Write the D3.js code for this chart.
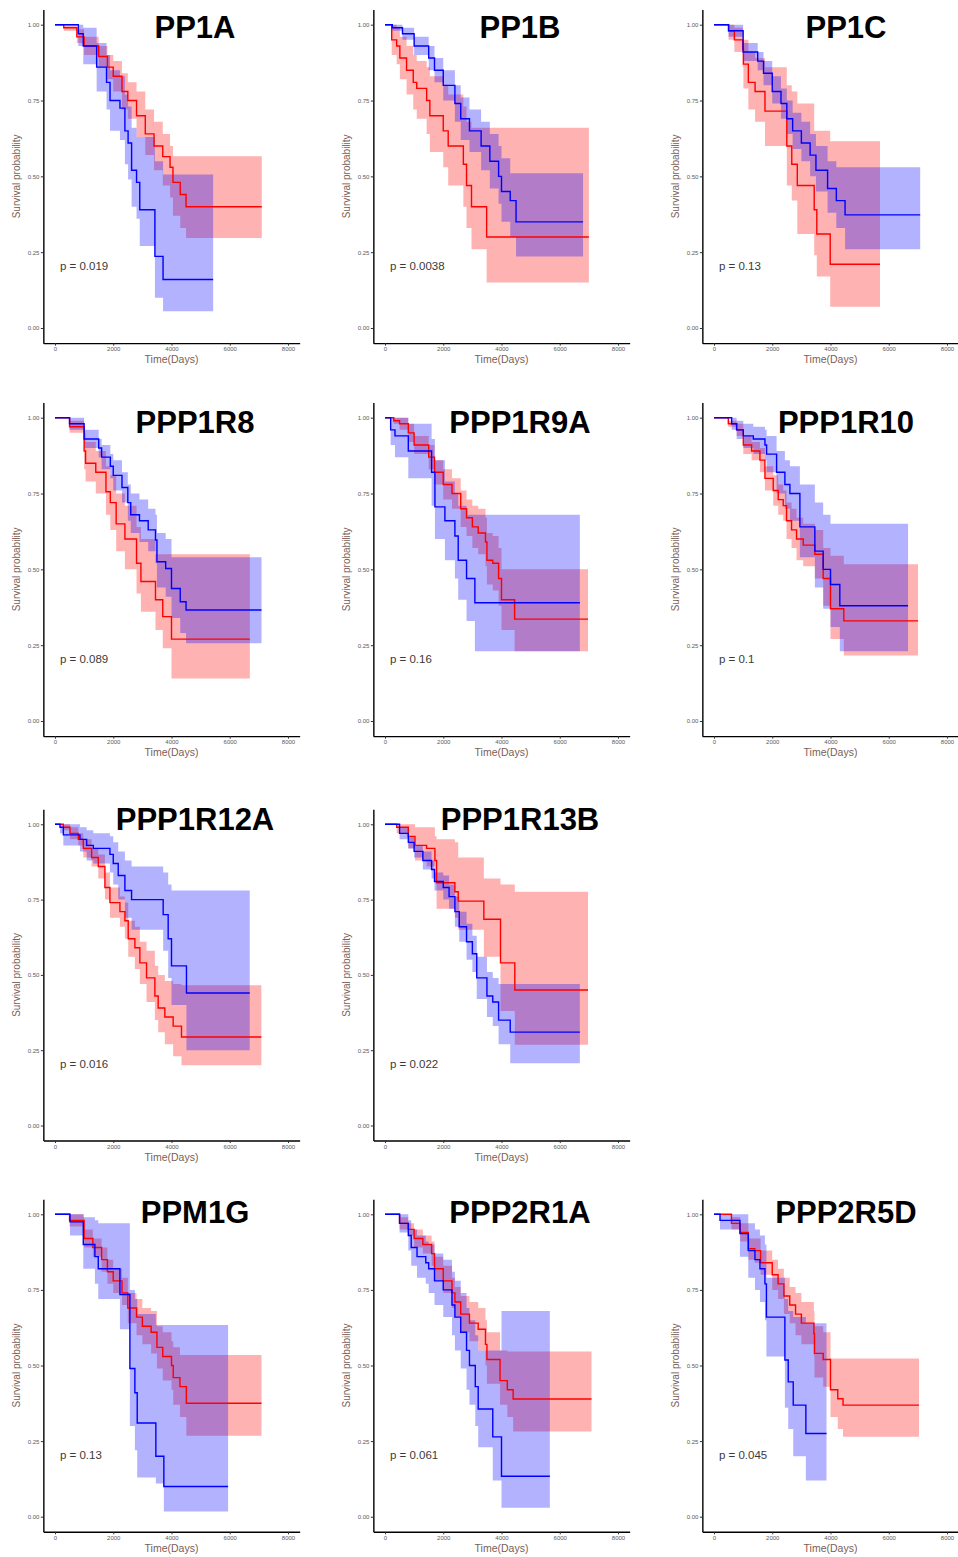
<!DOCTYPE html>
<html>
<head>
<meta charset="utf-8">
<script src="https://cdn.jsdelivr.net/npm/d3@7"></script>
<style>
  body { margin: 0; background: #fff; }
  svg text { font-family: "Liberation Sans", Arial, sans-serif; }
</style>
</head>
<body>
<svg id="chart" width="958" height="1557"></svg>
<script>
// gene panels, reading order; slot 8 (row 3, col 3) stays empty
const genes = ['PP1A', 'PP1B', 'PP1C', 'PPP1R8', 'PPP1R9A', 'PPP1R10',
  'PPP1R12A', 'PPP1R13B', 'PPM1G', 'PPP2R1A', 'PPP2R5D'];
const pValues = ['0.019', '0.0038', '0.13', '0.089', '0.16', '0.1',
  '0.016', '0.022', '0.13', '0.061', '0.045'];
const slots = [0, 1, 2, 3, 4, 5, 6, 7, 9, 10, 11];

const yTicks = [0, 0.25, 0.5, 0.75, 1];
const xTicks = [0, 2000, 4000, 6000, 8000];

// each row: [time (days), survival, lower CI, upper CI]
const pp1aRed = [[0,1,1,1],[300,0.99,0.98,1],[750,0.96,0.94,0.985],[1000,0.93,0.90,0.96],
  [1500,0.895,0.86,0.93],[1800,0.86,0.82,0.90],[2000,0.83,0.78,0.88],[2300,0.78,0.72,0.84],
  [2500,0.75,0.69,0.81],[2800,0.70,0.63,0.78],[3100,0.64,0.57,0.72],[3400,0.60,0.52,0.68],
  [3700,0.565,0.47,0.64],[3950,0.53,0.43,0.60],[4050,0.48,0.37,0.566],[4300,0.44,0.33,0.566],
  [4500,0.40,0.297,0.566],[7100,0.40,0.297,0.566]];
const pp1aBlue = [[0,1,1,1],[800,0.97,0.93,1],[970,0.93,0.87,0.99],[1430,0.86,0.78,0.94],
  [1770,0.81,0.72,0.90],[1890,0.75,0.65,0.85],[2230,0.725,0.62,0.83],[2400,0.65,0.54,0.77],
  [2510,0.61,0.49,0.73],[2630,0.52,0.40,0.66],[2800,0.48,0.36,0.63],[2910,0.39,0.27,0.63],
  [3430,0.236,0.10,0.55],[3710,0.16,0.055,0.506],[5430,0.16,0.055,0.506]];

const pp1bRed = [[0,1,1,1],[230,0.95,0.90,1],[400,0.93,0.87,0.99],[510,0.89,0.82,0.96],
  [740,0.85,0.77,0.93],[970,0.81,0.72,0.90],[1090,0.79,0.69,0.88],[1430,0.75,0.64,0.86],
  [1540,0.70,0.58,0.83],[2000,0.65,0.53,0.80],[2170,0.60,0.47,0.77],[2690,0.54,0.40,0.73],
  [2800,0.47,0.33,0.68],[2970,0.40,0.26,0.66],[3490,0.30,0.15,0.66],[7000,0.30,0.15,0.66]];
const pp1bBlue = [[0,1,1,1],[250,0.99,0.98,1],[600,0.97,0.95,0.99],[1000,0.93,0.90,0.96],
  [1500,0.89,0.85,0.93],[1700,0.85,0.81,0.89],[2000,0.80,0.75,0.85],[2400,0.74,0.68,0.80],
  [2600,0.69,0.62,0.76],[2900,0.65,0.58,0.72],[3300,0.60,0.52,0.68],[3600,0.55,0.46,0.64],
  [3900,0.50,0.41,0.60],[4000,0.45,0.35,0.56],[4300,0.42,0.30,0.51],[4500,0.35,0.236,0.51],
  [6800,0.35,0.236,0.51]];

const pp1cRed = [[0,1,1,1],[500,0.98,0.95,1],[700,0.95,0.91,0.99],[985,0.92,0.86,0.98],
  [1010,0.87,0.79,0.95],[1180,0.81,0.72,0.91],[1410,0.78,0.68,0.89],[1750,0.715,0.60,0.86],
  [2500,0.60,0.47,0.80],[2670,0.54,0.42,0.78],[2860,0.47,0.31,0.74],[3440,0.39,0.24,0.65],
  [3530,0.31,0.17,0.65],[3990,0.21,0.07,0.616],[5700,0.21,0.07,0.616]];
const pp1cBlue = [[0,1,1,1],[500,0.98,0.96,1],[1000,0.91,0.88,0.94],[1500,0.88,0.85,0.91],
  [1700,0.84,0.80,0.88],[2000,0.78,0.74,0.83],[2300,0.74,0.69,0.79],[2500,0.69,0.64,0.75],
  [2700,0.65,0.59,0.71],[3000,0.61,0.55,0.68],[3300,0.57,0.50,0.64],[3500,0.52,0.45,0.60],
  [3900,0.46,0.38,0.55],[4200,0.42,0.33,0.53],[4500,0.373,0.26,0.53],[7080,0.373,0.26,0.53]];

const r8Red = [[0,1,1,1],[500,0.97,0.95,0.99],[1000,0.89,0.83,0.95],[1050,0.85,0.79,0.92],
  [1400,0.82,0.75,0.89],[1750,0.756,0.68,0.84],[1900,0.72,0.63,0.81],[2100,0.65,0.56,0.75],
  [2400,0.60,0.50,0.71],[2800,0.52,0.42,0.64],[2950,0.46,0.36,0.60],[3450,0.40,0.30,0.55],
  [3700,0.344,0.24,0.55],[4000,0.27,0.14,0.55],[6690,0.27,0.14,0.55]];
const r8Blue = [[0,1,1,1],[500,0.98,0.96,1],[1000,0.93,0.90,0.96],[1500,0.90,0.87,0.93],
  [1600,0.87,0.83,0.91],[1900,0.84,0.80,0.88],[2000,0.81,0.76,0.86],[2300,0.77,0.72,0.82],
  [2500,0.72,0.66,0.78],[2600,0.68,0.62,0.75],[2900,0.66,0.59,0.73],[3200,0.63,0.56,0.70],
  [3450,0.597,0.52,0.68],[3500,0.525,0.44,0.62],[3800,0.503,0.41,0.60],[4000,0.437,0.34,0.54],
  [4300,0.393,0.29,0.54],[4500,0.366,0.256,0.54],[7090,0.366,0.256,0.54]];

const r9aRed = [[0,1,1,1],[300,0.99,0.98,1],[500,0.98,0.96,1],[800,0.95,0.92,0.98],
  [1000,0.91,0.88,0.94],[1500,0.87,0.83,0.91],[1700,0.82,0.78,0.86],[2000,0.78,0.73,0.83],
  [2300,0.75,0.70,0.80],[2600,0.70,0.64,0.76],[2800,0.67,0.61,0.73],[3000,0.64,0.57,0.71],
  [3200,0.62,0.55,0.70],[3450,0.59,0.51,0.67],[3500,0.53,0.45,0.62],[3700,0.52,0.43,0.61],
  [3900,0.47,0.38,0.57],[4000,0.40,0.30,0.50],[4450,0.336,0.23,0.50],[6970,0.336,0.23,0.50]];
const r9aBlue = [[0,1,1,1],[194,0.96,0.91,1],[343,0.94,0.87,1],[800,0.89,0.80,0.98],
  [1600,0.82,0.71,0.93],[1714,0.706,0.60,0.86],[2057,0.66,0.53,0.79],[2400,0.61,0.47,0.75],
  [2514,0.53,0.40,0.71],[2800,0.47,0.33,0.68],[3086,0.39,0.23,0.68],[6690,0.39,0.23,0.68]];

const r10Red = [[0,1,1,1],[491,0.98,0.97,0.99],[777,0.96,0.94,0.98],[1006,0.91,0.88,0.94],
  [1291,0.89,0.86,0.92],[1577,0.86,0.82,0.90],[1749,0.80,0.76,0.84],[2034,0.76,0.71,0.81],
  [2206,0.73,0.68,0.78],[2377,0.71,0.66,0.76],[2491,0.66,0.60,0.72],[2663,0.63,0.57,0.70],
  [2834,0.60,0.53,0.67],[3063,0.58,0.51,0.65],[3463,0.55,0.47,0.63],[3749,0.47,0.38,0.57],
  [4000,0.37,0.27,0.545],[4457,0.33,0.216,0.517],[7006,0.33,0.216,0.517]];
const r10Blue = [[0,1,1,1],[606,0.98,0.96,1],[777,0.96,0.93,0.99],[1006,0.94,0.90,0.98],
  [1349,0.93,0.88,0.97],[1749,0.91,0.86,0.96],[1806,0.88,0.82,0.94],[2149,0.82,0.75,0.89],
  [2434,0.78,0.70,0.86],[2606,0.75,0.66,0.84],[2949,0.64,0.54,0.78],[3463,0.56,0.44,0.72],
  [3749,0.50,0.37,0.68],[4000,0.45,0.31,0.65],[4320,0.38,0.23,0.65],[6663,0.38,0.23,0.65]];

const r12aRed = [[0,1,1,1],[286,0.99,0.98,1],[514,0.97,0.95,0.99],[800,0.95,0.93,0.97],
  [971,0.92,0.89,0.95],[1257,0.89,0.86,0.92],[1486,0.86,0.82,0.90],[1714,0.79,0.75,0.84],
  [1886,0.74,0.69,0.79],[2229,0.71,0.66,0.76],[2400,0.68,0.62,0.74],[2514,0.62,0.56,0.68],
  [2743,0.59,0.52,0.66],[2914,0.54,0.47,0.61],[3143,0.49,0.41,0.58],[3429,0.43,0.35,0.53],
  [3543,0.39,0.31,0.50],[3771,0.36,0.27,0.48],[4057,0.33,0.23,0.47],[4343,0.294,0.20,0.466],
  [7086,0.294,0.20,0.466]];
const r12aBlue = [[0,1,1,1],[171,0.99,0.97,1],[286,0.965,0.93,1],[857,0.95,0.91,0.99],
  [1086,0.93,0.88,0.98],[1314,0.92,0.87,0.97],[1886,0.90,0.84,0.96],[2000,0.87,0.80,0.94],
  [2171,0.83,0.75,0.91],[2400,0.78,0.69,0.88],[2629,0.75,0.65,0.86],[3714,0.70,0.58,0.84],
  [3886,0.62,0.49,0.80],[4000,0.53,0.40,0.78],[4514,0.44,0.25,0.78],[6686,0.44,0.25,0.78]];

const r13bRed = [[0,1,1,1],[400,0.99,0.97,1],[800,0.96,0.92,1],[1029,0.93,0.88,0.99],
  [1429,0.92,0.86,0.99],[1714,0.88,0.81,0.96],[1771,0.806,0.72,0.95],[2400,0.776,0.69,0.94],
  [2514,0.745,0.65,0.89],[3394,0.685,0.56,0.82],[3966,0.54,0.38,0.80],[4457,0.45,0.268,0.776],
  [6971,0.45,0.268,0.776]];
const r13bBlue = [[0,1,1,1],[500,0.97,0.95,0.99],[800,0.94,0.92,0.96],[1000,0.91,0.89,0.93],
  [1300,0.88,0.85,0.91],[1600,0.85,0.82,0.88],[1700,0.81,0.78,0.84],[2000,0.79,0.75,0.83],
  [2200,0.76,0.72,0.80],[2400,0.71,0.66,0.76],[2550,0.66,0.61,0.71],[2800,0.61,0.55,0.67],
  [3000,0.57,0.51,0.63],[3150,0.49,0.42,0.56],[3500,0.43,0.36,0.51],[3700,0.41,0.33,0.49],
  [3900,0.35,0.27,0.47],[4300,0.31,0.207,0.47],[6690,0.31,0.207,0.47]];

const ppm1gRed = [[0,1,1,1],[500,0.98,0.96,1],[1000,0.92,0.89,0.95],[1300,0.89,0.86,0.92],
  [1600,0.85,0.81,0.89],[1800,0.81,0.77,0.85],[2000,0.78,0.74,0.82],[2300,0.74,0.70,0.79],
  [2500,0.69,0.64,0.74],[2800,0.66,0.60,0.72],[3000,0.63,0.57,0.69],[3300,0.61,0.54,0.68],
  [3500,0.56,0.49,0.63],[3700,0.53,0.45,0.61],[4000,0.50,0.42,0.58],[4060,0.46,0.37,0.56],
  [4290,0.43,0.33,0.535],[4510,0.375,0.268,0.535],[7090,0.375,0.268,0.535]];
const ppm1gBlue = [[0,1,1,1],[514,0.975,0.93,1],[971,0.90,0.82,0.99],[1370,0.86,0.77,0.98],
  [1486,0.82,0.72,0.97],[2229,0.735,0.62,0.97],[2571,0.49,0.30,0.75],[2743,0.41,0.22,0.72],
  [2823,0.31,0.13,0.67],[3463,0.20,0.11,0.634],[3737,0.10,0.017,0.634],[5943,0.10,0.017,0.634]];

const r2r1aRed = [[0,1,1,1],[500,0.97,0.95,0.99],[800,0.95,0.93,0.97],[1000,0.92,0.89,0.95],
  [1300,0.90,0.87,0.93],[1600,0.87,0.83,0.91],[1700,0.82,0.78,0.86],[2000,0.78,0.74,0.83],
  [2300,0.74,0.69,0.79],[2400,0.71,0.66,0.76],[2600,0.67,0.61,0.73],[2900,0.64,0.58,0.71],
  [3200,0.62,0.55,0.69],[3450,0.57,0.50,0.65],[3500,0.52,0.44,0.61],[3950,0.45,0.37,0.55],
  [4200,0.42,0.33,0.546],[4400,0.389,0.282,0.546],[7090,0.389,0.282,0.546]];
const r2r1aBlue = [[0,1,1,1],[500,0.97,0.94,1],[800,0.93,0.88,0.98],[900,0.89,0.83,0.95],
  [1100,0.86,0.79,0.93],[1400,0.84,0.77,0.91],[1500,0.82,0.74,0.90],[1700,0.78,0.70,0.87],
  [2000,0.75,0.66,0.85],[2300,0.70,0.60,0.81],[2400,0.66,0.55,0.78],[2600,0.61,0.49,0.74],
  [2800,0.55,0.42,0.69],[2900,0.50,0.37,0.65],[3100,0.43,0.30,0.60],[3200,0.356,0.23,0.55],
  [3700,0.264,0.12,0.55],[4000,0.134,0.03,0.68],[5660,0.134,0.03,0.68]];

const r2r5dRed = [[0,1,1,1],[600,0.97,0.95,0.99],[900,0.94,0.91,0.97],[1180,0.886,0.85,0.92],
  [1400,0.88,0.84,0.92],[1600,0.84,0.80,0.88],[2000,0.80,0.75,0.85],[2200,0.77,0.72,0.82],
  [2400,0.73,0.67,0.79],[2600,0.70,0.64,0.76],[2800,0.67,0.60,0.74],[3000,0.64,0.57,0.71],
  [3430,0.606,0.53,0.68],[3450,0.54,0.46,0.63],[3750,0.52,0.43,0.61],[4000,0.42,0.33,0.523],
  [4250,0.39,0.29,0.523],[4430,0.369,0.264,0.523],[7040,0.369,0.264,0.523]];
const r2r5dBlue = [[0,1,1,1],[206,0.98,0.95,1],[891,0.936,0.86,1],[1177,0.88,0.79,0.97],
  [1406,0.85,0.75,0.95],[1577,0.82,0.71,0.93],[1749,0.77,0.65,0.90],[1800,0.66,0.53,0.79],
  [2434,0.518,0.36,0.72],[2549,0.446,0.29,0.68],[2720,0.369,0.20,0.66],[3154,0.275,0.12,0.64],
  [3863,0.275,0.12,0.64]];

const redCurves = [pp1aRed, pp1bRed, pp1cRed, r8Red, r9aRed, r10Red, r12aRed, r13bRed,
  ppm1gRed, r2r1aRed, r2r5dRed];
const blueCurves = [pp1aBlue, pp1bBlue, pp1cBlue, r8Blue, r9aBlue, r10Blue, r12aBlue, r13bBlue,
  ppm1gBlue, r2r1aBlue, r2r5dBlue];

// layout of the 4x3 grid (pixel positions of day 0 / survival 1 and 0)
const colX0 = [55, 385, 714];
const titleX = [195, 520, 846];
const rowY1 = [24.7, 417.7, 824.3, 1214.3];
const rowY0 = [328, 721, 1125.5, 1516.7];
const titleY = [38, 433, 830, 1223];
const xSpan = 233; // pixels for 8000 days

const svg = d3.select('#chart');

const drawPanel = (i) => {
  const slot = slots[i];
  const col = slot % 3;
  const row = Math.floor(slot / 3);
  const k = xSpan / 8000;
  const unit = rowY0[row] - rowY1[row];

  const x = d3.scaleLinear()
    .domain([-400, 8400])
    .range([colX0[col] - 400 * k, colX0[col] + 8400 * k]);
  const y = d3.scaleLinear()
    .domain([-0.05, 1.05])
    .range([rowY0[row] + 0.05 * unit, rowY1[row] - 0.05 * unit]);

  const g = svg.append('g').attr('class', 'panel');

  const band = d3.area()
    .curve(d3.curveStepAfter)
    .x(d => x(d[0]))
    .y0(d => y(d[2]))
    .y1(d => y(d[3]));
  const line = d3.line()
    .curve(d3.curveStepAfter)
    .x(d => x(d[0]))
    .y(d => y(d[1]));

  g.append('path').attr('d', band(redCurves[i])).attr('fill', 'rgba(255,0,0,0.3)');
  g.append('path').attr('d', band(blueCurves[i])).attr('fill', 'rgba(0,0,255,0.3)');
  g.append('path').attr('d', line(redCurves[i]))
    .attr('fill', 'none').attr('stroke', '#ff0000').attr('stroke-width', 1.4);
  g.append('path').attr('d', line(blueCurves[i]))
    .attr('fill', 'none').attr('stroke', '#0000ff').attr('stroke-width', 1.4);

  // axes
  const yAxis = g.append('g')
    .attr('transform', `translate(${x(-400)},0)`)
    .call(d3.axisLeft(y).tickValues(yTicks).tickFormat(d3.format('.2f'))
      .tickSize(2.5).tickSizeOuter(0).tickPadding(1.5));
  const xAxis = g.append('g')
    .attr('transform', `translate(0,${y(-0.05)})`)
    .call(d3.axisBottom(x).tickValues(xTicks).tickFormat(d3.format('d'))
      .tickSize(2.5).tickSizeOuter(0).tickPadding(1.5));

  [yAxis, xAxis].forEach(a => {
    a.select('.domain').attr('stroke', '#000').attr('stroke-width', 1.4);
    a.selectAll('.tick line').attr('stroke', '#333').attr('stroke-width', 1);
    a.selectAll('.tick text').attr('fill', '#5a5a5a')
      .style('font-size', '6px').style('font-family', '"Liberation Sans", Arial, sans-serif');
  });

  g.append('text')
    .attr('transform', `translate(${colX0[col] - 38},${(rowY0[row] + rowY1[row]) / 2}) rotate(-90)`)
    .attr('text-anchor', 'middle')
    .attr('dominant-baseline', 'middle')
    .attr('fill', '#7a6055')
    .style('font-size', '10px')
    .text('Survival probability');

  g.append('text')
    .attr('x', x(4000))
    .attr('y', rowY0[row] + 35)
    .attr('text-anchor', 'middle')
    .attr('fill', '#7a6055')
    .style('font-size', '10.5px')
    .text('Time(Days)');

  g.append('text')
    .attr('x', x(170))
    .attr('y', y(0.2))
    .attr('dominant-baseline', 'middle')
    .attr('fill', '#3a3a3a')
    .style('font-size', '11.5px')
    .text(`p = ${pValues[i]}`);

  g.append('text')
    .attr('x', titleX[col])
    .attr('y', titleY[row])
    .attr('text-anchor', 'middle')
    .attr('fill', '#000')
    .style('font-size', '31px')
    .style('font-weight', 'bold')
    .text(genes[i]);
};

genes.forEach((gene, i) => drawPanel(i));
</script>
</body>
</html>
